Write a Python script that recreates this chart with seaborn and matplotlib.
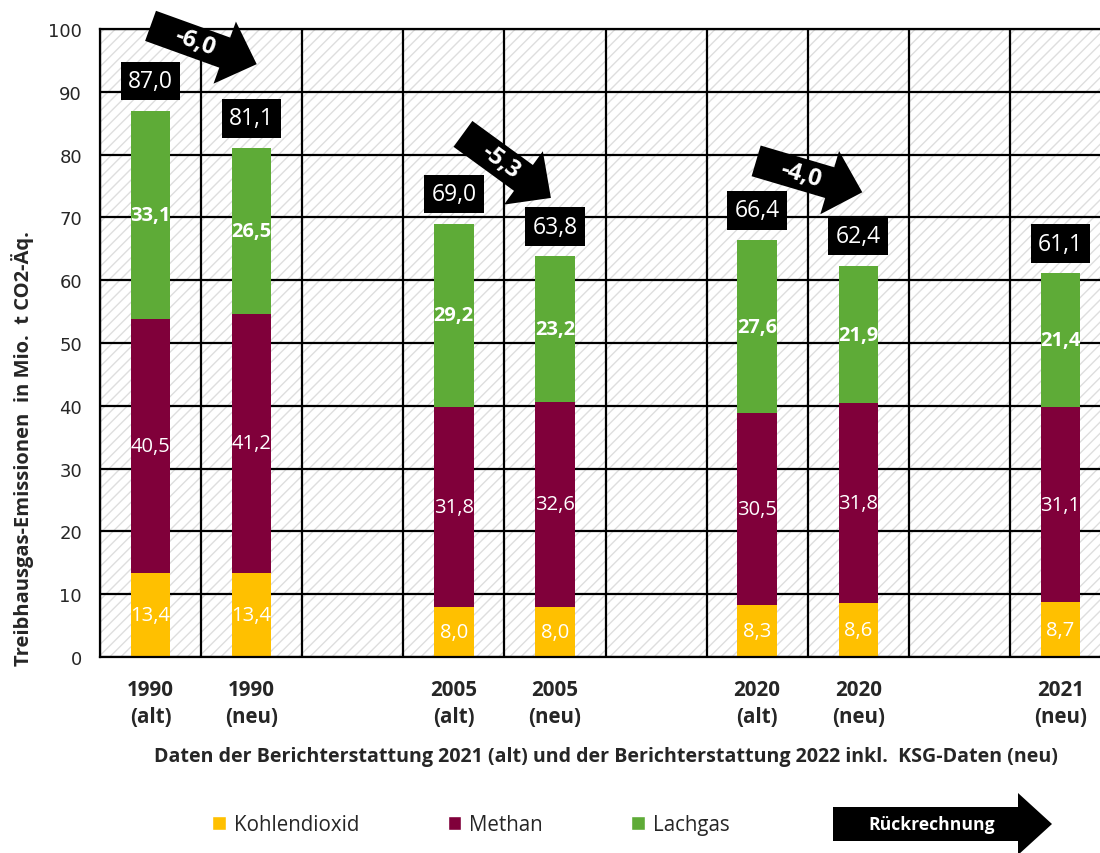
import math
import numpy as np
import pandas as pd
import matplotlib
matplotlib.use("Agg")
import matplotlib.pyplot as plt
import seaborn as sns
from matplotlib.patches import Rectangle, FancyArrow, Patch
from matplotlib.transforms import IdentityTransform

# ---------------- data ----------------
kategorien = ["1990\n(alt)", "1990\n(neu)", " ", "2005\n(alt)", "2005\n(neu)", "  ",
              "2020\n(alt)", "2020\n(neu)", "   ", "2021\n(neu)"]
balken_kat = ["1990\n(alt)", "1990\n(neu)", "2005\n(alt)", "2005\n(neu)",
              "2020\n(alt)", "2020\n(neu)", "2021\n(neu)"]
kohlendioxid = [13.4, 13.4, 8.0, 8.0, 8.3, 8.6, 8.7]
methan = [40.5, 41.2, 31.8, 32.6, 30.5, 31.8, 31.1]
lachgas = [33.1, 26.5, 29.2, 23.2, 27.6, 21.9, 21.4]
gesamt = [87.0, 81.1, 69.0, 63.8, 66.4, 62.4, 61.1]
aenderung = ["-6,0", "-5,3", "-4,0"]
pfeil_start = [(0.0, 100.5), (3.09, 83.3), (5.99, 79.0)]
pfeil_ende = [(1.05, 94.4), (3.96, 73.1), (7.04, 74.0)]

farben = {"Kohlendioxid": "#FFC000", "Methan": "#80003A", "Lachgas": "#5EAB37"}

def fmt(v):
    return f"{v:.1f}".replace(".", ",")

df = pd.DataFrame({"kat": balken_kat, "co2": kohlendioxid, "ch4": methan, "n2o": lachgas})
df["s1"] = df["co2"]
df["s2"] = df["co2"] + df["ch4"]
df["s3"] = df["s2"] + df["n2o"]

sns.set_style("white")
plt.rcParams["font.family"] = ["Open Sans", "DejaVu Sans"]
plt.rcParams["hatch.linewidth"] = 1.0

fig = plt.figure(figsize=(11, 8.54), dpi=100)
ax = fig.add_axes([100 / 1100, 196 / 854, 1011 / 1100, 628 / 854])

bg = Rectangle((0, 0), 1, 1, transform=ax.transAxes, facecolor="white",
               edgecolor="#dedede", hatch="///", lw=0, zorder=0.1)
ax.add_patch(bg)

for col, name in [("s3", "Lachgas"), ("s2", "Methan"), ("s1", "Kohlendioxid")]:
    sns.barplot(data=df, x="kat", y=col, order=kategorien, color=farben[name],
                width=0.39, errorbar=None, linewidth=0, saturation=1, ax=ax, zorder=2)

ax.set_xlim(-0.5, 9.5)
ax.set_ylim(0, 100)
ax.set_yticks(range(0, 101, 10))
ax.set_yticklabels([str(v) for v in range(0, 101, 10)], family="DejaVu Sans", fontsize=13)
ax.tick_params(axis="y", length=0, pad=13)

ax.set_xticks(range(len(kategorien)))
ax.set_xticklabels(kategorien, fontsize=14.8, fontweight="bold", linespacing=1.35)
ax.tick_params(axis="x", which="major", length=0, pad=16)
ax.set_xticks(np.arange(-0.5, 10, 1), minor=True)
ax.tick_params(axis="x", which="minor", length=10, width=1.6, color="black", direction="out")

ax.set_axisbelow(True)
ax.grid(False)
ax.yaxis.grid(True, which="major", color="black", lw=1.6)
ax.xaxis.grid(True, which="minor", color="black", lw=1.6)
for s in ax.spines.values():
    s.set_visible(True)
    s.set_color("black")
    s.set_linewidth(1.6)

ax.set_xlabel("Daten der Berichterstattung 2021 (alt) und der Berichterstattung 2022 inkl.  KSG-Daten (neu)",
              fontsize=14.1, fontweight="bold")
ax.xaxis.set_label_coords(0.5005, -0.158)
ax.xaxis.label.set_va("center")
ax.set_ylabel("Treibhausgas-Emissionen  in Mio.  t CO2-Äq.", fontsize=14.5, fontweight="bold")
ax.yaxis.set_label_coords(-0.077, 0.333)
ax.yaxis.label.set_va("center")

# segment labels
pos = [kategorien.index(k) for k in balken_kat]
for i, p in enumerate(pos):
    c, m, n = kohlendioxid[i], methan[i], lachgas[i]
    ax.text(p, c / 2, fmt(c), ha="center", va="center", color="white", fontsize=14.5, zorder=5)
    ax.text(p, c + m / 2, fmt(m), ha="center", va="center", color="white", fontsize=14.5, zorder=5)
    ax.text(p, c + m + n / 2, fmt(n), ha="center", va="center", color="white", fontsize=14.5,
            fontweight="bold", zorder=5)
    ax.text(p, gesamt[i] + 4.7, fmt(gesamt[i]), ha="center", va="center", color="white",
            fontsize=16.5, zorder=6,
            bbox=dict(boxstyle="square,pad=0.32", fc="black", ec="none"))

# change arrows
for txt, a, b in zip(aenderung, pfeil_start, pfeil_ende):
    p0 = ax.transData.transform(a)
    p1 = ax.transData.transform(b)
    dx, dy = p1[0] - p0[0], p1[1] - p0[1]
    arr = FancyArrow(p0[0], p0[1], dx, dy, width=32, head_width=66, head_length=34,
                     length_includes_head=True, transform=IdentityTransform(),
                     color="black", lw=0, zorder=10)
    fig.add_artist(arr)
    ang = math.degrees(math.atan2(dy, dx))
    fig.text(p0[0] + 0.42 * dx, p0[1] + 0.42 * dy, txt, transform=IdentityTransform(),
             ha="center", va="center", rotation=ang, rotation_mode="anchor",
             color="white", fontsize=17, fontweight="bold", zorder=11)

# Rückrechnung arrow
arr = FancyArrow(833, 29, 219, 0, width=34, head_width=62, head_length=34,
                 length_includes_head=True, transform=IdentityTransform(),
                 color="black", lw=0)
fig.add_artist(arr)
fig.text(932, 29, "Rückrechnung", transform=IdentityTransform(), ha="center", va="center",
         color="white", fontsize=12.6, fontweight="bold")

handles = [Patch(facecolor=farben[k], label=k) for k in ["Kohlendioxid", "Methan", "Lachgas"]]
fig.legend(handles=handles, loc="center", bbox_to_anchor=(0.428, 0.0328), ncol=3,
           frameon=False, fontsize=14.8, handlelength=0.65, handleheight=0.65,
           columnspacing=4.3, handletextpad=0.4)

fig.savefig("out.png", dpi=100)
